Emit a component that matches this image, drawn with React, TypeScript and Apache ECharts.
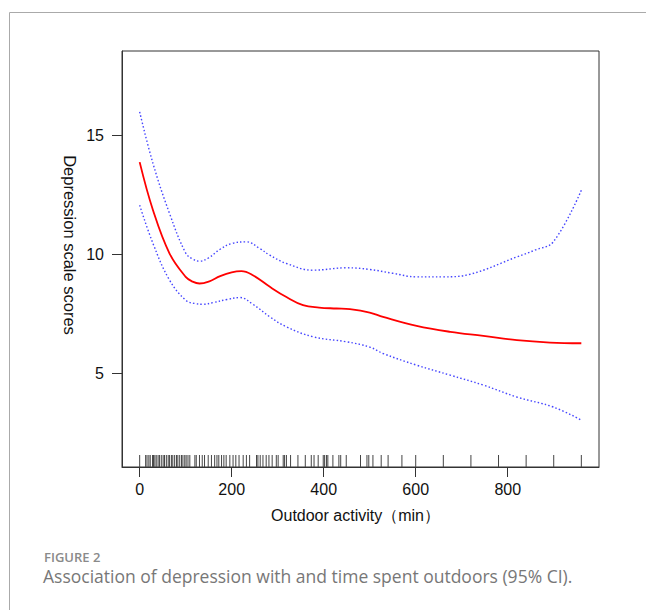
import React, { useEffect, useRef } from "react";
import * as echarts from "echarts";

// x grid of the fitted curve (minutes) and its values
const fitX = [0, 29, 65, 100, 115, 130, 150, 175, 200, 221, 246, 283, 319, 355, 390, 428, 457, 500, 529, 602, 675, 747, 820, 892, 960];
const fitY = [13.87, 11.85, 10.03, 9.05, 8.85, 8.77, 8.85, 9.08, 9.24, 9.29, 9.12, 8.63, 8.2, 7.86, 7.76, 7.72, 7.69, 7.55, 7.37, 6.99, 6.74, 6.57, 6.39, 6.29, 6.26];

const upperX = [0, 29, 65, 100, 115, 130, 150, 174, 200, 232, 261, 283, 319, 377, 450, 500, 550, 602, 660, 718, 820, 860, 899, 960];
const upperY = [15.98, 13.81, 11.71, 10.05, 9.8, 9.71, 9.85, 10.2, 10.45, 10.52, 10.24, 9.96, 9.61, 9.33, 9.43, 9.36, 9.2, 9.05, 9.05, 9.16, 9.89, 10.18, 10.52, 12.69];

const lowerX = [0, 29, 65, 100, 120, 138, 160, 190, 218, 246, 283, 319, 377, 450, 500, 529, 602, 675, 747, 820, 899, 960];
const lowerY = [12.06, 10.45, 8.91, 8.07, 7.93, 7.9, 7.97, 8.1, 8.18, 7.9, 7.37, 6.95, 6.53, 6.32, 6.1, 5.83, 5.34, 4.92, 4.5, 4.0, 3.58, 3.03];

// rug of observed outdoor-activity values (minutes)
const rugX = [
  0, 13, 16, 20, 23, 28, 30, 33, 36, 40, 43, 47, 51, 54, 58, 62, 65, 69, 72, 76, 80, 83, 87, 91, 94, 98,
  101, 105, 109, 120, 123, 130, 136, 141, 149, 156, 163, 168, 172, 178, 183, 188, 196, 203, 209, 216,
  225, 232, 239, 254, 257, 262, 268, 275, 281, 288, 297, 301, 312, 315, 319, 328, 344, 360, 373, 379,
  388, 399, 402, 406, 409, 420, 433, 437, 449, 480, 494, 498, 507, 525, 540, 570, 600, 660, 720, 780,
  840, 900, 960,
];

const xTicks = [0, 200, 400, 600, 800];
const yTicks = [5, 10, 15];
const xRange = [-38.4, 998.4];
const yRange = [1.06, 18.54];

const xTitle = "Outdoor activity（min）";
const yTitle = "Depression scale scores";
const figLabel = "FIGURE 2";
const caption = "Association of depression with and time spent outdoors (95% CI).";

const pairs = (xs: number[], ys: number[]) => xs.map((x, i) => [x, ys[i]]);

export default function App() {
  const ref = useRef<HTMLDivElement>(null);
  useEffect(() => {
    document.body.style.margin = "0";
    if (!ref.current) return;
    const chart = echarts.init(ref.current, undefined, { renderer: "svg" });
    const axisFont = { fontFamily: "Liberation Sans", fontSize: 16, color: "#111" };
    const ciStyle = { color: "#4545ff", width: 1.4, type: [1.5, 2.2] };
    chart.setOption({
      animation: false,
      backgroundColor: "#fff",
      grid: { left: 122, right: 47, top: 51, bottom: 143, show: true, borderColor: "#333", borderWidth: 1 },
      xAxis: {
        type: "value",
        min: xRange[0],
        max: xRange[1],
        axisLine: { show: true, onZero: false, lineStyle: { color: "#333", width: 1 } },
        axisTick: { show: true, inside: false, length: 10, customValues: xTicks, lineStyle: { color: "#333" } },
        axisLabel: { ...axisFont, margin: 14, customValues: xTicks },
        splitLine: { show: false },
        name: xTitle,
        nameLocation: "middle",
        nameGap: 40,
        nameTextStyle: { fontFamily: "Liberation Sans", fontSize: 16, color: "#111", padding: [0, 10, 0, 0] },
      },
      yAxis: {
        type: "value",
        min: yRange[0],
        max: yRange[1],
        axisLine: { show: true, onZero: false, lineStyle: { color: "#333", width: 1 } },
        axisTick: { show: true, inside: false, length: 10, customValues: yTicks, lineStyle: { color: "#333" } },
        axisLabel: { ...axisFont, margin: 18, customValues: yTicks },
        splitLine: { show: false },
      },
      series: [
        {
          type: "line",
          data: pairs(upperX, upperY),
          smooth: 0.4,
          showSymbol: false,
          lineStyle: ciStyle,
        },
        {
          type: "line",
          data: pairs(lowerX, lowerY),
          smooth: 0.4,
          showSymbol: false,
          lineStyle: ciStyle,
        },
        {
          type: "line",
          data: pairs(fitX, fitY),
          smooth: 0.4,
          showSymbol: false,
          lineStyle: { color: "#ff0000", width: 1.8 },
        },
        {
          type: "custom",
          data: rugX.map((v) => [v, yRange[0]]),
          renderItem: (_p: any, api: any) => {
            const pt = api.coord([api.value(0), yRange[0]]);
            return {
              type: "line",
              shape: { x1: pt[0], y1: pt[1], x2: pt[0], y2: pt[1] - 12 },
              style: { stroke: "#444", lineWidth: 1 },
            };
          },
        },
      ],
      graphic: [
        { type: "line", shape: { x1: 9.5, y1: 12.5, x2: 646, y2: 12.5 }, style: { stroke: "#aaa", lineWidth: 1 } },
        { type: "line", shape: { x1: 9.5, y1: 12.5, x2: 9.5, y2: 610 }, style: { stroke: "#aaa", lineWidth: 1 } },
        {
          type: "text",
          x: 70,
          y: 245,
          rotation: -Math.PI / 2,
          style: {
            text: yTitle,
            fontFamily: "Liberation Sans",
            fontSize: 16.5,
            fill: "#111",
            align: "center",
            verticalAlign: "middle",
          },
        },
        {
          type: "text",
          left: 44,
          top: 550,
          style: { text: figLabel, fontFamily: "Open Sans", fontSize: 13, fontWeight: 600, fill: "#8a8a8a" },
        },
        {
          type: "text",
          left: 43,
          top: 567,
          style: { text: caption, fontFamily: "Open Sans", fontSize: 17.5, fill: "#777" },
        },
      ],
    });
    return () => chart.dispose();
  }, []);
  return <div ref={ref} style={{ width: 646, height: 610 }} />;
}
